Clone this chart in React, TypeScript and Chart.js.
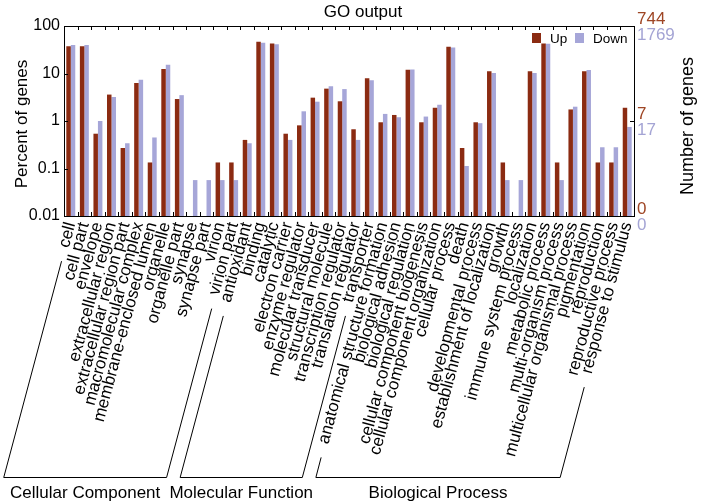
import React, { useEffect, useRef } from 'react';
import { Chart, registerables } from 'chart.js';

Chart.register(...registerables);

const categories = [
  'cell', 'cell part', 'envelope', 'extracellular region', 'extracellular region part',
  'macromolecular complex', 'membrane-enclosed lumen', 'organelle', 'organelle part',
  'synapse', 'synapse part', 'virion', 'virion part',
  'antioxidant', 'binding', 'catalytic', 'electron carrier', 'enzyme regulator',
  'molecular transducer', 'structural molecule', 'transcription regulator',
  'translation regulator', 'transporter',
  'anatomical structure formation', 'biological adhesion', 'biological regulation',
  'cellular component biogenesis', 'cellular component organization', 'cellular process',
  'death', 'developmental process', 'establishment of localization', 'growth',
  'immune system process', 'localization', 'metabolic process', 'multi-organism process',
  'multicellular organismal process', 'pigmentation', 'reproduction',
  'reproductive process', 'response to stimulus',
];

const groupNames = ['Cellular Component', 'Molecular Function', 'Biological Process'];
const groupSizes = [13, 10, 19];

const upPercent: (number | null)[] = [
  37.5, 37.5, 0.54, 3.6, 0.27, 6.3, 0.134, 12.4, 2.9, null, null, 0.134, 0.134,
  0.4, 46.5, 43, 0.54, 0.81, 3.1, 4.8, 2.6, 0.67, 7.9,
  0.94, 1.34, 12.0, 0.94, 1.9, 36.5, 0.27, 0.94, 11.2, 0.134, null, 11.2, 43,
  0.134, 1.75, 11.2, 0.134, 0.134, 1.9,
];

const downPercent: (number | null)[] = [
  40, 40, 1.0, 3.2, 0.34, 7.4, 0.45, 15.3, 3.5, 0.057, 0.057, 0.057, 0.057,
  0.34, 44.4, 41.5, 0.4, 1.6, 2.55, 5.4, 4.7, 0.4, 7.2,
  1.41, 1.2, 12.2, 1.24, 2.2, 35.3, 0.113, 0.9, 10.2, 0.057, 0.057, 10.2, 42.5,
  0.057, 2.0, 11.8, 0.28, 0.28, 0.75,
];

const upTotal = 744;
const downTotal = 1769;
const percentTicks = [0.01, 0.1, 1, 10, 100];
const countTicks = [100, 1, 0.01];

const UP_COLOR = '#8B2B12';
const DOWN_COLOR = '#A6A6D8';
const UP_TEXT = '#9E4524';
const DOWN_TEXT = '#A4A4D4';
const FONT = '"Liberation Sans", Arial, Helvetica, sans-serif';
const ROT = 75;

const decorPlugin = {
  id: 'decor',
  afterDraw(chart: any) {
    const ctx = chart.ctx as CanvasRenderingContext2D;
    const { left, right, top, bottom } = chart.chartArea;
    const xs = chart.scales.x;
    const ys = chart.scales.y;
    const n = categories.length;
    ctx.save();
    ctx.strokeStyle = '#000';
    ctx.lineWidth = 1;
    // frame
    ctx.strokeRect(Math.round(left) + 0.5, Math.round(top) + 0.5, Math.round(right - left), Math.round(bottom - top));
    // category ticks top & bottom (inward)
    const w = (right - left) / n;
    ctx.beginPath();
    for (let i = 1; i < n; i++) {
      const bx = Math.round(left + i * w) + 0.5;
      ctx.moveTo(bx, top);
      ctx.lineTo(bx, top + 4);
      ctx.moveTo(bx, bottom);
      ctx.lineTo(bx, bottom - 4);
    }
    for (const v of percentTicks) {
      const py = Math.round(ys.getPixelForValue(v)) + 0.5;
      ctx.moveTo(left, py);
      ctx.lineTo(left + 4, py);
    }
    for (const v of countTicks) {
      const py = Math.round(ys.getPixelForValue(v)) + 0.5;
      ctx.moveTo(right, py);
      ctx.lineTo(right - 4, py);
    }
    ctx.stroke();

    // title
    ctx.fillStyle = '#000';
    ctx.font = `17px ${FONT}`;
    ctx.textAlign = 'center';
    ctx.textBaseline = 'middle';
    ctx.fillText('GO output', 363, 12);

    // left axis title
    ctx.save();
    ctx.translate(22, (top + bottom) / 2 + 3);
    ctx.rotate(-Math.PI / 2);
    ctx.fillText('Percent of genes', 0, 0);
    ctx.restore();

    // right axis title
    ctx.save();
    ctx.font = `18px ${FONT}`;
    ctx.translate(688, (top + bottom) / 2 + 5);
    ctx.rotate(-Math.PI / 2);
    ctx.fillText('Number of genes', 0, 0);
    ctx.restore();

    // right count labels
    ctx.font = `17px ${FONT}`;
    ctx.textAlign = 'left';
    ctx.textBaseline = 'alphabetic';
    for (const v of countTicks) {
      const py = ys.getPixelForValue(v);
      ctx.fillStyle = UP_TEXT;
      ctx.fillText(String(Math.floor((upTotal * v) / 100)), right + 3, py - 2);
      ctx.fillStyle = DOWN_TEXT;
      ctx.fillText(String(Math.floor((downTotal * v) / 100)), right + 3, py + 14);
    }

    // legend
    ctx.font = `13.5px ${FONT}`;
    ctx.textBaseline = 'middle';
    const ly = top + 12;
    ctx.fillStyle = UP_COLOR;
    ctx.fillRect(532, ly - 5, 9, 10);
    ctx.fillStyle = '#000';
    ctx.fillText('Up', 550, ly + 1);
    ctx.fillStyle = DOWN_COLOR;
    ctx.fillRect(575, ly - 5, 9, 10);
    ctx.fillStyle = '#000';
    ctx.fillText('Down', 593, ly + 1);

    // group brackets
    const a = (ROT * Math.PI) / 180;
    const yEnd = bottom + 7;
    const yBase = 477;
    ctx.font = `17px ${FONT}`;
    const startPt = (i: number) => {
      const cx = xs.getPixelForValue(i) + 1;
      const L = ctx.measureText(categories[i]).width + 14;
      return [cx - L * Math.cos(a), yEnd + L * Math.sin(a)];
    };
    const basePt = (i: number) => {
      const cx = xs.getPixelForValue(i) + 1;
      return [cx - (yBase - yEnd) / Math.tan(a), yBase];
    };
    let idx = 0;
    ctx.strokeStyle = '#000';
    ctx.lineWidth = 1;
    groupNames.forEach((name, g) => {
      const f = idx;
      const l = idx + groupSizes[g] - 1;
      idx += groupSizes[g];
      const s1 = startPt(f);
      const b1 = basePt(f);
      const b2 = basePt(l);
      const s2 = startPt(l);
      ctx.beginPath();
      ctx.moveTo(s1[0], s1[1]);
      ctx.lineTo(b1[0], b1[1] + 0.5);
      ctx.lineTo(b2[0], b2[1] + 0.5);
      ctx.lineTo(s2[0], s2[1]);
      ctx.stroke();
      ctx.fillStyle = '#000';
      ctx.textAlign = 'center';
      ctx.textBaseline = 'middle';
      ctx.fillText(name, (b1[0] + b2[0]) / 2, 493);
    });
    ctx.restore();
  },
};

export default function App() {
  const canvasRef = useRef<HTMLCanvasElement | null>(null);

  useEffect(() => {
    if (!canvasRef.current) return;
    const chart = new Chart(canvasRef.current, {
      type: 'bar',
      data: {
        labels: categories,
        datasets: [
          {
            label: 'Up',
            data: upPercent,
            backgroundColor: UP_COLOR,
            borderWidth: 0,
            barPercentage: 1,
            categoryPercentage: 0.66,
          },
          {
            label: 'Down',
            data: downPercent,
            backgroundColor: DOWN_COLOR,
            borderWidth: 0,
            barPercentage: 1,
            categoryPercentage: 0.66,
          },
        ],
      },
      options: {
        responsive: false,
        animation: false,
        devicePixelRatio: 1,
        layout: { padding: { top: 26, left: 0, right: 0, bottom: 0 } },
        plugins: {
          legend: { display: false },
          title: { display: false },
          tooltip: { enabled: false },
        },
        scales: {
          x: {
            type: 'category',
            offset: true,
            grid: { display: false, drawTicks: false },
            border: { display: false },
            ticks: {
              autoSkip: false,
              minRotation: ROT,
              maxRotation: ROT,
              padding: 4,
              color: '#000',
              font: { family: FONT, size: 17 },
            },
            afterFit: (scale: any) => {
              scale.height = 288;
            },
          },
          y: {
            type: 'logarithmic',
            position: 'left',
            min: 0.01,
            max: 100,
            grid: { display: false, drawTicks: false },
            border: { display: false },
            afterBuildTicks: (scale: any) => {
              scale.ticks = percentTicks.map((v) => ({ value: v }));
            },
            ticks: {
              padding: 4,
              color: '#000',
              font: { family: FONT, size: 16 },
              callback: (v: any) => String(v),
            },
            afterFit: (scale: any) => {
              scale.width = 64;
            },
          },
          y2: {
            type: 'logarithmic',
            position: 'right',
            min: 0.01,
            max: 100,
            grid: { display: false, drawTicks: false },
            border: { display: false },
            ticks: { display: false },
            afterFit: (scale: any) => {
              scale.width = 68;
            },
          },
        },
      },
      plugins: [decorPlugin],
    });
    return () => chart.destroy();
  }, []);

  return (
    <div style={{ position: 'absolute', left: 0, top: 0, width: 702, height: 504, background: '#fff' }}>
      <canvas ref={canvasRef} width={702} height={504} style={{ display: 'block' }} />
    </div>
  );
}
